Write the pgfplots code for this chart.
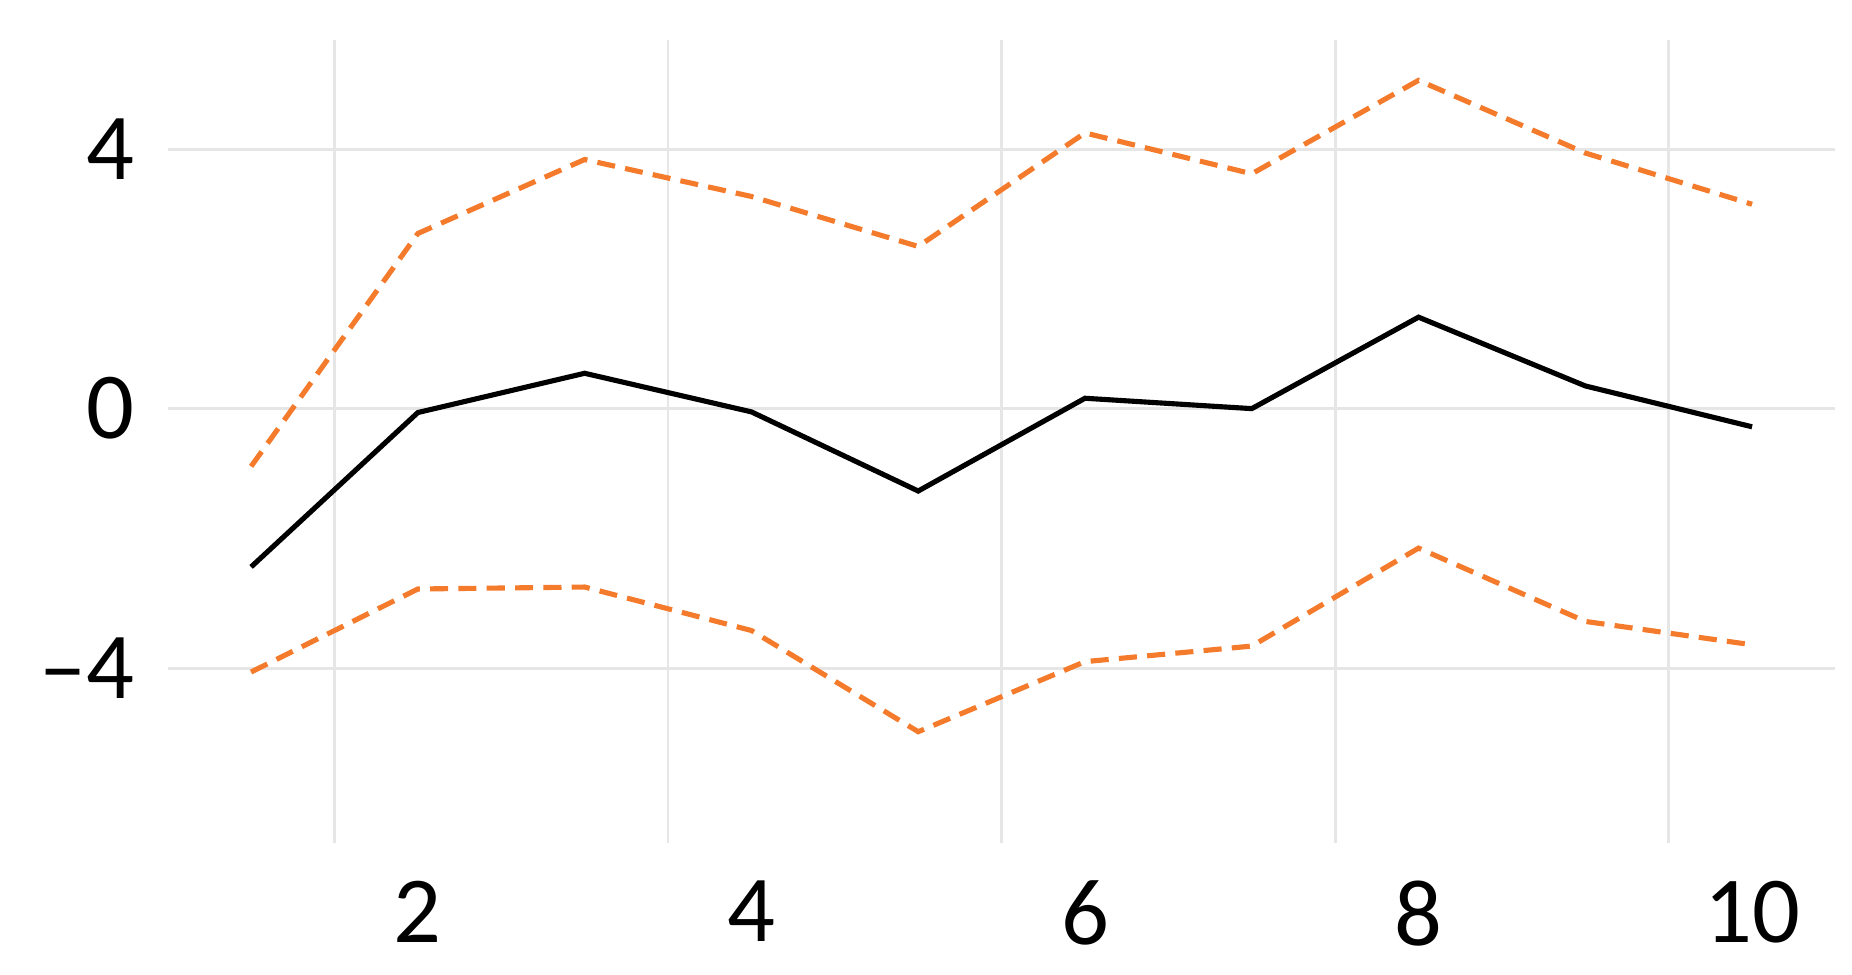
\documentclass[border=0pt]{standalone}
\usepackage{pgfplots}
\pgfplotsset{compat=1.18}
\usepackage{fontspec}
\setmainfont{Carlito}
\definecolor{gridc}{HTML}{E6E6E6}
\definecolor{orng}{HTML}{F47B2C}
\begin{document}
\begin{tikzpicture}
\begin{axis}[
  width=423.6pt, height=204pt, scale only axis,
  xmin=0.5, xmax=10.5, ymin=-6.7, ymax=5.68,
  axis line style={draw=none},
  xtick={1.5,3.5,5.5,7.5,9.5}, xticklabels={},
  extra x ticks={2,4,6,8,10},
  extra x tick labels={2,4,6,8,10},
  extra x tick style={grid=none, major tick length=0pt},
  ytick={-4,0,4}, yticklabels={--4,0,4},
  xmajorgrids, ymajorgrids,
  major grid style={gridc, line width=0.7pt},
  major tick length=0pt,
  tick style={draw=none},
  tick label style={font=\fontsize{24}{28}\selectfont},
  xticklabel style={yshift=-6pt},
  yticklabel style={xshift=-5pt},
  clip=false,
]
\addplot[black, line width=1.3pt] coordinates {
(1,-2.44) (2,-0.06) (3,0.545) (4,-0.05) (5,-1.27) (6,0.16) (7,0.0) (8,1.41) (9,0.35) (10,-0.28)};
\addplot[orng, line width=1.3pt, dash pattern=on 4.6pt off 2.6pt] coordinates {
(1,-0.89) (2,2.70) (3,3.84) (4,3.27) (5,2.50) (6,4.25) (7,3.62) (8,5.06) (9,3.94) (10,3.15)};
\addplot[orng, line width=1.3pt, dash pattern=on 4.6pt off 2.6pt] coordinates {
(1,-4.06) (2,-2.78) (3,-2.75) (4,-3.42) (5,-4.98) (6,-3.90) (7,-3.66) (8,-2.15) (9,-3.28) (10,-3.64)};
\coordinate (sw) at (rel axis cs:0,0);
\coordinate (ne) at (rel axis cs:1,1);
\end{axis}
\pgfresetboundingbox
\path ([shift={(-42.6pt,-33.3pt)}]sw) rectangle ([shift={(4.2pt,10.2pt)}]ne);
\end{tikzpicture}
\end{document}
